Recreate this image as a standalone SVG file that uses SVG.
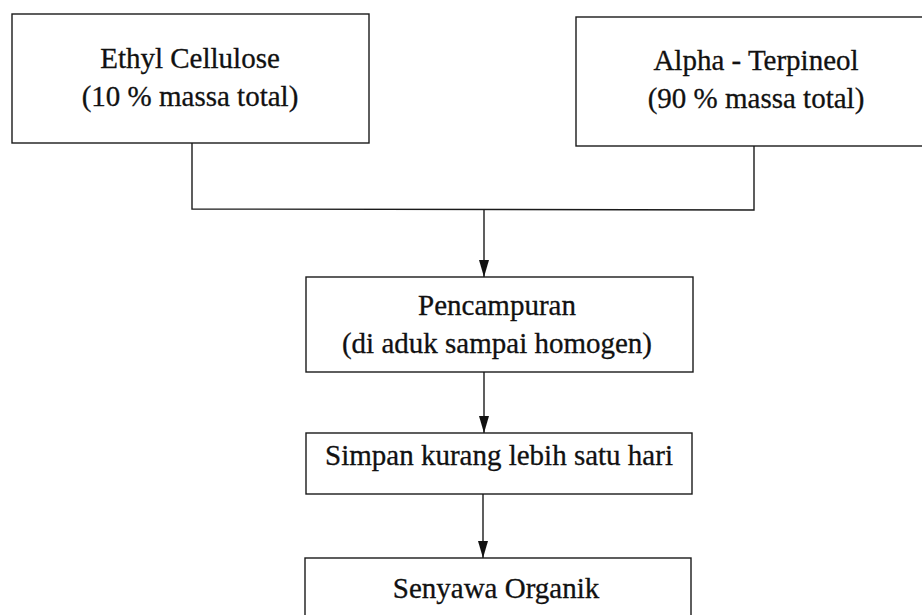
<svg xmlns="http://www.w3.org/2000/svg" width="922" height="615" viewBox="0 0 922 615">
  <style>
    .box { fill: #ffffff; stroke: #1a1a1a; stroke-width: 1.4; }
    .lbl { font-family: "Liberation Serif", "Times New Roman", serif; font-size: 29px; fill: #111111; stroke: #111111; stroke-width: 0.3; text-anchor: middle; }
    .wire { fill: none; stroke: #1a1a1a; stroke-width: 1.4; }
  </style>
  <defs>
    <marker id="arrow" viewBox="0 0 17 10" refX="17" refY="5" markerWidth="17" markerHeight="10" markerUnits="userSpaceOnUse" orient="auto">
      <path d="M0,0 L17,5 L0,10 Z" fill="#111111"/>
    </marker>
  </defs>
  <rect width="922" height="615" fill="#ffffff"/>

  <g id="connectors">
    <polyline class="wire" points="192,143 192,209 754,210 754,146"/>
    <line class="wire" x1="484" y1="210" x2="484" y2="277" marker-end="url(#arrow)"/>
    <line class="wire" x1="484" y1="372" x2="484" y2="433" marker-end="url(#arrow)"/>
    <line class="wire" x1="483" y1="494" x2="483" y2="558" marker-end="url(#arrow)"/>
  </g>

  <g id="ethyl-cellulose">
    <rect class="box" x="12" y="14" width="357" height="129"/>
    <text class="lbl" x="190" y="68">Ethyl Cellulose</text>
    <text class="lbl" x="190" y="106">(10 % massa total)</text>
  </g>

  <g id="alpha-terpineol">
    <rect class="box" x="576" y="17" width="360" height="129"/>
    <text class="lbl" x="756" y="70">Alpha - Terpineol</text>
    <text class="lbl" x="756" y="108">(90 % massa total)</text>
  </g>

  <g id="pencampuran">
    <rect class="box" x="306" y="277" width="387" height="95"/>
    <text class="lbl" x="497" y="315">Pencampuran</text>
    <text class="lbl" x="497" y="353">(di aduk sampai homogen)</text>
  </g>

  <g id="simpan">
    <rect class="box" x="306" y="433" width="386" height="61"/>
    <text class="lbl" x="499" y="465">Simpan kurang lebih satu hari</text>
  </g>

  <g id="senyawa-organik">
    <rect class="box" x="305" y="558" width="386" height="70"/>
    <text class="lbl" x="496" y="598">Senyawa Organik</text>
  </g>
</svg>
